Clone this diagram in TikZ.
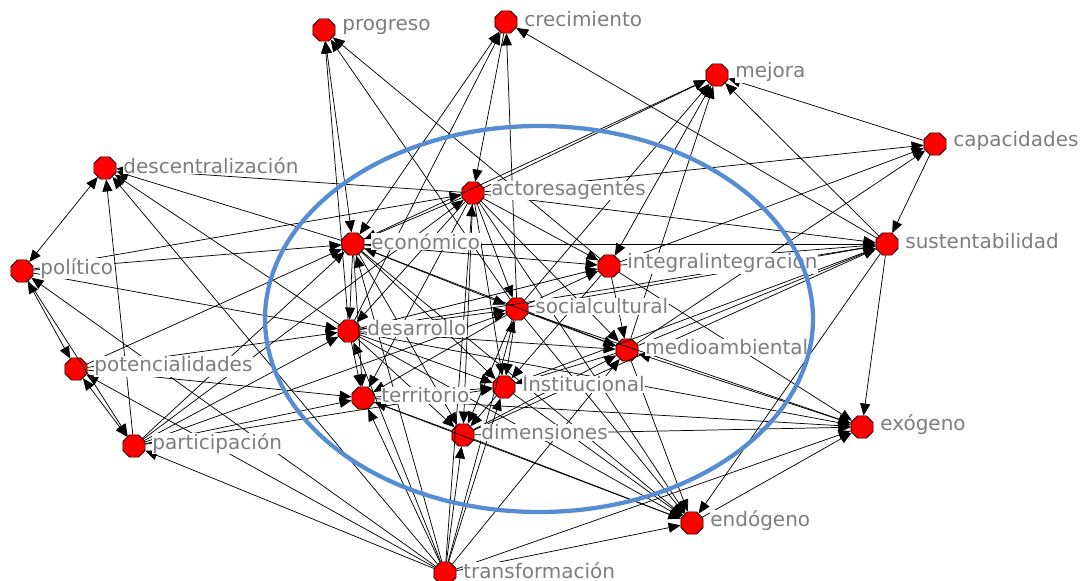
\documentclass[tikz,border=0pt]{standalone}
\usepackage{fontspec}
\setmainfont{DejaVu Sans}
\usetikzlibrary{shapes.geometric, arrows.meta, positioning}
\definecolor{ringblue}{RGB}{86,140,210}
\definecolor{labgray}{RGB}{125,125,130}

\tikzset{
	vert/.style={regular polygon, regular polygon sides=8, fill=red, draw=black, line width=0.5pt, minimum size=18pt, inner sep=0pt},
	tip/.tip={Triangle[length=9pt, width=7.5pt]},
	link/.style={-tip, line width=0.55pt},
	twoway/.style={tip-tip, line width=0.55pt},
	lab/.style={text=labgray, fill=white, inner sep=0.5pt, yshift=2pt, font=\fontsize{15}{17}\selectfont}
}

\begin{document}
\begin{tikzpicture}[x=0.75pt, y=-0.75pt]
	\useasboundingbox (0,0) rectangle (1083,581);
	% the words
	\foreach \n/\x/\y in {prog/324/30, crec/506/22, mej/717/75, cap/935/144,
		desc/105/168, act/473/193, eco/353/244, sus/887/244, pol/22/271,
		intg/609/266, soc/517/309, desa/349/331, med/627/350, pot/76/369,
		inst/504/387, ter/363/398, exo/862/427, part/134/446, dim/463/435,
		endo/692/523, trans/445/573}{
		\node [vert] (\n) at (\x,\y) {};
	}
	% one-way ties
	\foreach \a/\b in {desa/prog, soc/prog, intg/prog,
		desa/crec, crec/act, soc/crec, sus/crec,
		eco/mej, act/mej, med/mej, soc/mej, sus/mej, cap/mej,
		cap/sus, act/cap, intg/cap, med/cap,
		act/sus, eco/sus, intg/sus, soc/sus, desa/sus, med/sus, inst/sus, dim/sus,
		sus/exo, sus/endo, soc/exo, intg/exo, dim/exo, ter/exo, trans/exo, endo/exo, desa/exo,
		med/endo, soc/endo, inst/endo, dim/endo, ter/endo, desa/endo, eco/endo, trans/endo, act/endo,
		trans/part, trans/pot, trans/pol, trans/desc, trans/ter, trans/dim, trans/inst,
		trans/soc, trans/eco, trans/desa, trans/med, trans/act,
		pol/part, pol/eco, pol/act, pol/desa,
		part/desc, part/desa, part/eco, part/act, part/ter, part/soc, part/inst,
		pot/ter, pot/eco, pot/desa,
		act/desc, eco/desc, desa/desc,
		act/eco, act/desa, act/soc, act/intg, act/med, act/ter, act/inst, act/dim,
		eco/desa, eco/ter, eco/soc, eco/intg, eco/inst, eco/dim,
		desa/ter, desa/soc, desa/intg, desa/med, desa/inst, desa/dim,
		soc/intg, soc/med, soc/inst, soc/dim, soc/ter,
		intg/med, intg/inst, med/inst, dim/med, dim/ter, ter/inst, inst/dim}{
		\draw [link] (\a) -- (\b);
	}
	% ties both ways
	\foreach \a/\b in {eco/prog, eco/crec, intg/mej, exo/med, pol/desc, pol/pot, part/pot, eco/med}{
		\draw [twoway] (\a) -- (\b);
	}
	\foreach \n/\t in {prog/progreso, crec/crecimiento, mej/mejora, cap/capacidades,
		desc/descentralización, act/actoresagentes, eco/económico, sus/sustentabilidad,
		pol/político, intg/integralintegracion, soc/socialcultural, desa/desarrollo,
		med/medioambiental, pot/potencialidades, inst/Institucional, ter/territorio,
		exo/exógeno, part/participación, dim/dimensiones, endo/endógeno, trans/transformación}{
		\node [lab, right=4.5pt of \n] {\t};
	}
	\draw [ringblue, line width=3.2pt] (539,319) ellipse [x radius=274, y radius=193];
\end{tikzpicture}
\end{document}
